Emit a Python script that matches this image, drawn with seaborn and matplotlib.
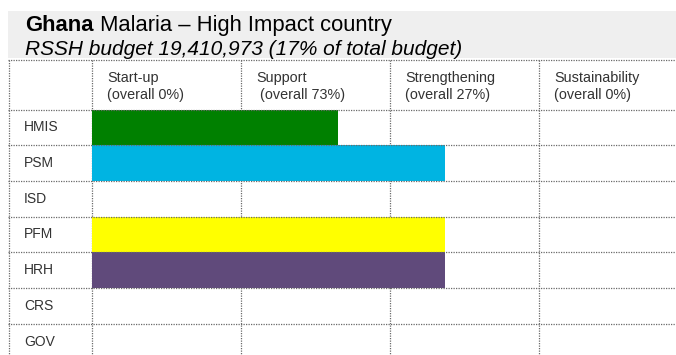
import matplotlib
matplotlib.use("Agg")
import matplotlib.pyplot as plt
import seaborn as sns
import pandas as pd

# RSSH investment areas and how far along the maturity continuum each one reaches
# (x in stage units: 0 = Start-up begins, 1 = Support, 2 = Strengthening, 3 = Sustainability)
areas = ["HMIS", "PSM", "ISD", "PFM", "HRH", "CRS", "GOV"]
reach = [1.65, 2.37, 0.0, 2.37, 2.37, 0.0, 0.0]
area_colors = ["#008000", "#00B4E2", "#FFFFFF", "#FFFF00", "#604A7B", "#FFFFFF", "#FFFFFF"]

stages = ["Start-up", "Support", "Strengthening", "Sustainability"]
stage_share = ["(overall 0%)", " (overall 73%)", "(overall 27%)", "(overall 0%)"]

country = "Ghana"
title_rest = " Malaria \u2013 High Impact country"
subtitle = "RSSH budget 19,410,973 (17% of total budget)"

df = pd.DataFrame({"area": areas, "reach": reach})

sns.set_theme(style="white")
plt.rcParams["font.family"] = ["Liberation Sans", "DejaVu Sans"]

W, H = 676, 355
fig = plt.figure(figsize=(W / 100, H / 100), dpi=100)
fig.patch.set_facecolor("white")

# grey title band
fig.patches.append(plt.Rectangle((8 / W, 1 - 58 / H), 1 - 8 / W, 47 / H,
                                 transform=fig.transFigure, facecolor="#efefef",
                                 edgecolor="none", zorder=0))

# table axes: pixel 8..676 horizontally, 60..355 vertically
ax = fig.add_axes([8 / W, 0, 1 - 8 / W, 1 - 60 / H])
col_px = 149.0
row_px = 35.7
x_left = -84 / col_px
x_right = 584 / col_px
y_top = -0.5 - 49.5 / row_px
y_bot = -0.5 + 245.5 / row_px

sns.barplot(data=df, x="reach", y="area", hue="area", palette=area_colors,
            orient="h", width=1.0, legend=False, linewidth=0, saturation=1,
            ax=ax, zorder=2)

ax.set_xlim(x_left, x_right)
ax.set_ylim(y_bot, y_top)
ax.set_axis_off()

grid_kw = dict(color="#6a6a6a", linewidth=0.9, linestyle=(0, (1, 1)))

# vertical cell borders (behind the bars)
for xv in [x_left + 0.006, 0, 1, 2, 3]:
    ax.plot([xv, xv], [y_top, y_bot], zorder=1, clip_on=False, **grid_kw)

# horizontal cell borders (over the bars)
for yv in [y_top] + [i - 0.5 for i in range(len(areas))]:
    ax.plot([x_left, x_right], [yv, yv], zorder=3, clip_on=False, **grid_kw)

# row labels
for i, name in enumerate(areas):
    ax.text(-0.456, i, name, ha="left", va="center", fontsize=10,
            color="#333333", zorder=4)

# header cells
for j, (stage, share) in enumerate(zip(stages, stage_share)):
    ax.text(j + 0.10, -0.5 - 27.5 / row_px, stage, ha="left", va="baseline",
            fontsize=10.4, color="#333333")
    ax.text(j + 0.10, -0.5 - 10.0 / row_px, share, ha="left", va="baseline",
            fontsize=10.4, color="#333333")

# title: bold country name followed by regular text
t1 = fig.text(25 / W, 1 - 31 / H, country, fontsize=15.8, fontweight="bold",
              color="black", va="baseline", ha="left")
fig.canvas.draw()
bb = t1.get_window_extent(renderer=fig.canvas.get_renderer())
fig.text(bb.x1 / W, 1 - 31 / H, title_rest, fontsize=15.8, color="black",
         va="baseline", ha="left")
fig.text(25 / W, 1 - 55 / H, subtitle, fontsize=15, style="italic",
         color="black", va="baseline", ha="left")

fig.savefig("out.png", dpi=100)
